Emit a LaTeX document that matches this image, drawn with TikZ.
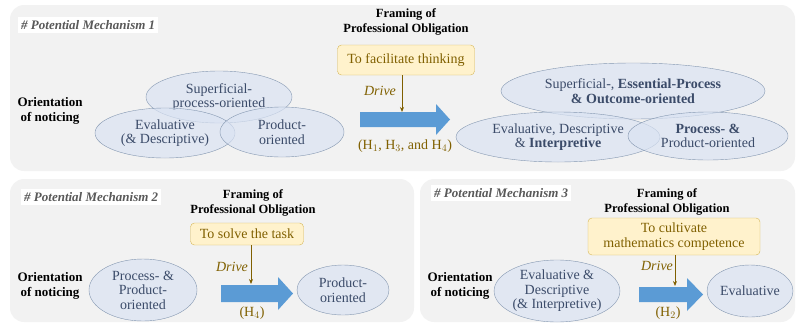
\documentclass[tikz,border=0pt]{standalone}
\usepackage{fontspec}
\setmainfont{Liberation Serif}
\usetikzlibrary{shapes.geometric,arrows.meta}

\definecolor{panelgray}{HTML}{F2F2F2}
\definecolor{titlegray}{HTML}{595959}
\definecolor{ovalfill}{HTML}{DAE3F3}
\definecolor{ovalline}{HTML}{8497B0}
\definecolor{ovaltext}{HTML}{3B4B69}
\definecolor{framefill}{HTML}{FFF2CC}
\definecolor{frameline}{HTML}{D6B656}
\definecolor{drivebrown}{HTML}{806000}
\definecolor{bigblue}{HTML}{5B9BD5}

\tikzset{
  panel/.style={fill=panelgray, rounded corners=14pt},
  mechtitle/.style={fill=white, text=titlegray, anchor=west, inner sep=3pt,
    font=\fontsize{13}{13}\selectfont\bfseries\itshape},
  heading/.style={align=center, inner sep=0pt,
    font=\fontsize{12.5}{14.5}\selectfont\bfseries},
  oval/.style={ellipse, draw=ovalline, fill=ovalfill, fill opacity=0.7,
    text opacity=1, text=ovaltext, align=center, inner sep=0pt,
    font=\fontsize{14}{14.5}\selectfont},
  framebox/.style={draw=frameline, fill=framefill, rounded corners=4pt,
    text=drivebrown, align=center, inner sep=0pt,
    font=\fontsize{14}{15}\selectfont},
  drive/.style={draw=drivebrown, line width=0.8pt,
    -{Stealth[length=5pt,width=4pt]}},
  drivetext/.style={text=drivebrown, font=\fontsize{14}{14}\selectfont\itshape},
  hypo/.style={text=drivebrown, font=\fontsize{14}{14}\selectfont},
  bigarrow/.style={fill=bigblue}
}

\begin{document}
\begin{tikzpicture}[x=1pt,y=-1pt]
\useasboundingbox (0,0) rectangle (798,325);

% panels
\fill[panel] (10,5) rectangle (795,171);
\fill[panel] (10,179) rectangle (414,322);
\fill[panel] (420,179) rectangle (795,322);

% ---- mechanism 1
\node[mechtitle] (t1) at (18,25) {\# Potential Mechanism 1};
\node[heading] (f1) at (406,22) {Framing of\\Professional Obligation};
\node[framebox, minimum width=137pt, minimum height=30pt] (b1) at (406,60) {To facilitate thinking};
\node[heading, font=\fontsize{13}{15.5}\selectfont\bfseries] (o1) at (50,111) {Orientation\\of noticing};

\node[oval, minimum width=146pt, minimum height=52pt] (s1) at (219,97) {Superficial-\\process-oriented};
\node[oval, minimum width=140pt, minimum height=50pt] (e1) at (165,133) {Evaluative\\(\& Descriptive)};
\node[oval, minimum width=124pt, minimum height=50pt] (p1) at (282,132) {Product-\\oriented};

\fill[bigarrow] (360,112) -- (436,112) -- (436,104) -- (450,119.5)
  -- (436,135) -- (436,127) -- (360,127) -- cycle;
\coordinate (d1) at (402,112);
\draw[drive] (b1.south -| d1) -- (d1);
\node[drivetext] (dr1) at (380,91) {Drive};
\node[hypo] (h1) at (405,146) {(H$_1$, H$_3$, and H$_4$)};

\node[oval, minimum width=264pt, minimum height=56pt] (s2) at (633,91) {Superficial-, \textbf{Essential-Process}\\\textbf{\& Outcome-oriented}};
\node[oval, minimum width=204pt, minimum height=50pt] (e2) at (558,137) {Evaluative, Descriptive\\\& \textbf{Interpretive}};
\node[oval, minimum width=160pt, minimum height=48pt] (p2) at (708,136) {\textbf{Process- \&}\\Product-oriented};

% ---- mechanism 2
\node[mechtitle] (t2) at (21,197) {\# Potential Mechanism 2};
\node[heading] (f2) at (253,203) {Framing of\\Professional Obligation};
\node[framebox, minimum width=113pt, minimum height=22pt] (b2) at (247,234) {To solve the task};
\node[heading, font=\fontsize{13}{15.5}\selectfont\bfseries] (o2) at (50,286) {Orientation\\of noticing};
\node[oval, minimum width=108pt, minimum height=62pt] (e3) at (143,290) {Process- \&\\Product-\\oriented};
\node[oval, minimum width=92pt, minimum height=50pt] (p3) at (343,290) {Product-\\oriented};

\fill[bigarrow] (221,285) -- (278,285) -- (278,277) -- (293,293.5)
  -- (278,310) -- (278,302) -- (221,302) -- cycle;
\coordinate (d2) at (251,284);
\draw[drive] (b2.south -| d2) -- (d2);
\node[drivetext] (dr2) at (232,267) {Drive};
\node[hypo] (h2) at (252,313) {(H$_4$)};

% ---- mechanism 3
\node[mechtitle] (t3) at (431,193) {\# Potential Mechanism 3};
\node[heading] (f3) at (667,202) {Framing of\\Professional Obligation};
\node[framebox, minimum width=172pt, minimum height=37pt] (b3) at (674,236.5) {To cultivate\\mathematics competence};
\node[heading, font=\fontsize{13}{15.5}\selectfont\bfseries] (o3) at (460,286) {Orientation\\of noticing};
\node[oval, minimum width=120pt, minimum height=62pt] (e4) at (557,291) {Evaluative \&\\Descriptive\\(\& Interpretive)};
\node[oval, minimum width=86pt, minimum height=52pt] (p4) at (750,291) {Evaluative};

\fill[bigarrow] (639,287) -- (687,287) -- (687,278) -- (703,294.5)
  -- (687,311) -- (687,302) -- (639,302) -- cycle;
\coordinate (d3) at (675,286);
\draw[drive] (b3.south -| d3) -- (d3);
\node[drivetext] (dr3) at (657,266) {Drive};
\node[hypo] (h3) at (668,313) {(H$_2$)};

\end{tikzpicture}
\end{document}
